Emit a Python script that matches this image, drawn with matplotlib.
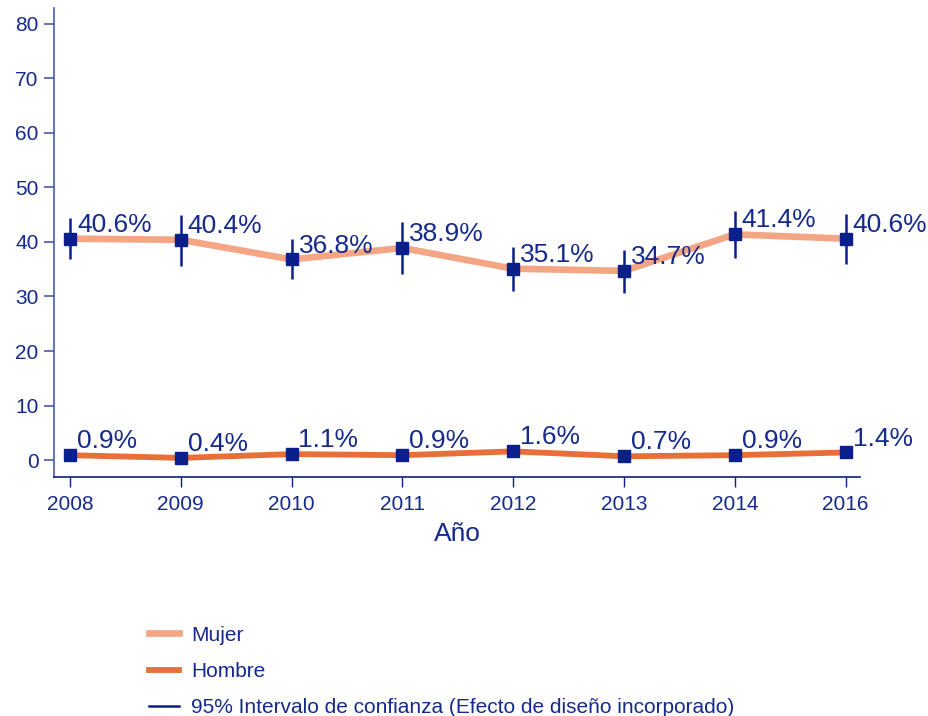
import matplotlib.pyplot as plt
from matplotlib.lines import Line2D

plt.rcParams['font.family'] = ['Liberation Sans', 'DejaVu Sans']

years = ['2008', '2009', '2010', '2011', '2012', '2013', '2014', '2016']
mujer = [40.6, 40.4, 36.8, 38.9, 35.1, 34.7, 41.4, 40.6]
mujer_lo = [36.9, 35.6, 33.2, 34.1, 31.0, 30.6, 37.1, 36.0]
mujer_hi = [44.4, 45.0, 40.5, 43.7, 39.1, 38.5, 45.7, 45.1]
hombre = [0.9, 0.4, 1.1, 0.9, 1.6, 0.7, 0.9, 1.4]
hombre_lo = [0.4, 0.1, 0.5, 0.4, 0.7, 0.3, 0.4, 0.8]
hombre_hi = [1.4, 0.7, 1.7, 1.4, 2.5, 1.1, 1.4, 2.0]

navy = '#0b1f8a'
text_c = '#152a8c'
axis_c = '#4a5aaa'
c_mujer = '#f4a584'
c_hombre = '#e96f38'

fig = plt.figure(figsize=(9.29, 7.16), dpi=100)
ax = fig.add_axes([0.0581, 0.3338, 0.8676, 0.655])

x = list(range(len(years)))

ax.plot(x, mujer, color=c_mujer, lw=4.8, zorder=2, solid_capstyle='butt')
ax.plot(x, hombre, color=c_hombre, lw=4.2, zorder=2, solid_capstyle='butt')
ax.vlines(x, mujer_lo, mujer_hi, color=navy, lw=1.8, zorder=3)
ax.vlines(x, hombre_lo, hombre_hi, color=navy, lw=1.8, zorder=3)
ax.plot(x, mujer, ls='none', marker='s', ms=8, color=navy, zorder=4)
ax.plot(x, hombre, ls='none', marker='s', ms=8, color=navy, zorder=4)

for xi, v in zip(x, mujer):
    ax.annotate(f'{v:.1f}%', (xi, v), xytext=(5, 10), textcoords='offset points',
                ha='left', va='center', fontsize=19, color=text_c, zorder=5)
for xi, v in zip(x, hombre):
    ax.annotate(f'{v:.1f}%', (xi, v), xytext=(5, 10), textcoords='offset points',
                ha='left', va='center', fontsize=19, color=text_c, zorder=5)

ax.set_xlim(-0.144, 7.13)
ax.set_ylim(-3.1, 82.9)
ax.set_xticks(x)
ax.set_xticklabels(years)
ax.set_yticks(range(0, 81, 10))
for s in ['top', 'right']:
    ax.spines[s].set_visible(False)
ax.spines['left'].set_color(axis_c)
ax.spines['bottom'].set_color(navy)
ax.spines['left'].set_linewidth(1.2)
ax.spines['bottom'].set_linewidth(1.2)
ax.tick_params(axis='y', colors=axis_c, labelcolor=text_c, labelsize=15, length=7, width=1.2, pad=4)
ax.tick_params(axis='x', colors=navy, labelcolor=text_c, labelsize=15, length=7, width=1.0, pad=6)
ax.set_xlabel('Año', fontsize=19, color=text_c, labelpad=6)

handles = [
    Line2D([], [], color=c_mujer, lw=4.8),
    Line2D([], [], color=c_hombre, lw=4.2),
    Line2D([], [], color=navy, lw=1.8),
]
labels = ['Mujer', 'Hombre', '95% Intervalo de confianza (Efecto de diseño incorporado)']
leg = fig.legend(handles, labels, loc='upper left', bbox_to_anchor=(0.151, 0.138),
                 frameon=False, fontsize=15, handlelength=1.45, handletextpad=0.6,
                 labelspacing=0.83, borderaxespad=0)
for t in leg.get_texts():
    t.set_color(text_c)

fig.savefig('out.png', dpi=100)
